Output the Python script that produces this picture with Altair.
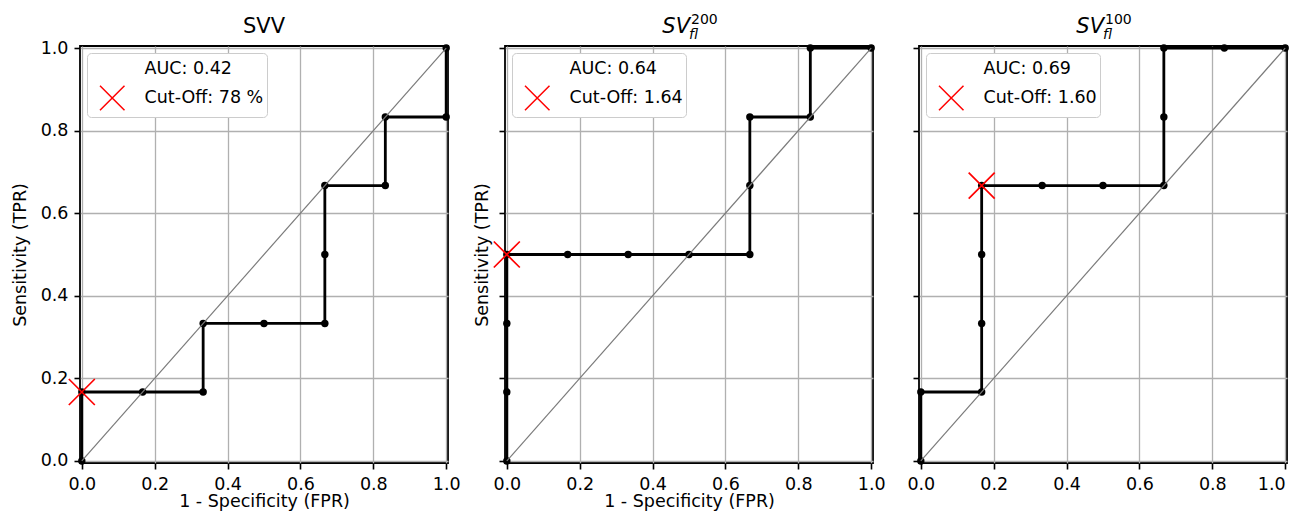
import altair as alt
import pandas as pd

FONT = "DejaVu Sans"
TICKS = [0.0, 0.2, 0.4, 0.6, 0.8, 1.0]
DIAG = [0.0, 1.0]
XPATH = "M-1,-1L1,1M-1,1L1,-1"

# Panel 1: SVV
svv_fpr = [0.0, 0.0, 0.167, 0.333, 0.333, 0.5, 0.667, 0.667, 0.667, 0.833, 0.833, 1.0, 1.0]
svv_tpr = [0.0, 0.167, 0.167, 0.167, 0.333, 0.333, 0.333, 0.5, 0.667, 0.667, 0.833, 0.833, 1.0]
svv_auc = "AUC: 0.42"
svv_cut = "Cut-Off: 78 %"
svv_cut_pt = [0.0, 0.167]

# Panel 2: SV_fl^200
sv200_fpr = [0.0, 0.0, 0.0, 0.0, 0.167, 0.333, 0.5, 0.667, 0.667, 0.667, 0.833, 0.833, 1.0]
sv200_tpr = [0.0, 0.167, 0.333, 0.5, 0.5, 0.5, 0.5, 0.5, 0.667, 0.833, 0.833, 1.0, 1.0]
sv200_auc = "AUC: 0.64"
sv200_cut = "Cut-Off: 1.64"
sv200_cut_pt = [0.0, 0.5]

# Panel 3: SV_fl^100
sv100_fpr = [0.0, 0.0, 0.167, 0.167, 0.167, 0.167, 0.333, 0.5, 0.667, 0.667, 0.667, 0.833, 1.0]
sv100_tpr = [0.0, 0.167, 0.167, 0.333, 0.5, 0.667, 0.667, 0.667, 0.667, 0.833, 1.0, 1.0, 1.0]
sv100_auc = "AUC: 0.69"
sv100_cut = "Cut-Off: 1.60"
sv100_cut_pt = [0.167, 0.667]

W, H = 368, 417
FS = 17.5
PAD_L, PAD_T = 72, 38
SVG_W, SVG_H = 1283, 503


def text_layer(txt, px, py, size, style="normal", align="center"):
    return alt.Chart(pd.DataFrame({"t": [txt]})).mark_text(
        font=FONT, fontSize=size, fontStyle=style, align=align,
        baseline="alphabetic", color="black"
    ).encode(x=alt.value(px), y=alt.value(py), text="t:N")


def make_panel(fpr, tpr, auc_lab, cut_lab, cut_pt, title_layers,
               ylabels, ytitle, xtitle, ytitle_pad=11, yextent=None, last_right=False):
    roc = pd.DataFrame({"fpr": fpr, "tpr": tpr, "i": list(range(len(fpr)))})
    xs = alt.Scale(domain=[-0.005, 1.005], nice=False, zero=False)
    ys = alt.Scale(domain=[-0.005, 1.005], nice=False, zero=False)

    xkw = dict(values=TICKS, format=".1f", labelPadding=6, titlePadding=0)
    xkw["title"] = xtitle if xtitle else None
    if last_right:
        xkw["labelAlign"] = {"condition": {"test": "datum.value >= 0.99", "value": "right"},
                             "value": "center"}
    ykw = dict(values=TICKS, format=".1f", labelPadding=6, titlePadding=ytitle_pad,
               labels=ylabels)
    ykw["title"] = ytitle if ytitle else None
    if yextent is not None:
        ykw["minExtent"] = yextent

    x = alt.X("fpr:Q", scale=xs, axis=alt.Axis(**xkw))
    y = alt.Y("tpr:Q", scale=ys, axis=alt.Axis(**ykw))

    line = alt.Chart(roc).mark_line(color="black", strokeWidth=2.8).encode(
        x=x, y=y, order="i:Q")
    pts = alt.Chart(roc).mark_circle(color="black", size=55, opacity=1).encode(
        x=alt.X("fpr:Q", scale=xs), y=alt.Y("tpr:Q", scale=ys))
    diag = alt.Chart(pd.DataFrame({"fpr": DIAG, "tpr": DIAG})).mark_line(
        color="#7a7a7a", strokeWidth=1.2).encode(
        x=alt.X("fpr:Q", scale=xs), y=alt.Y("tpr:Q", scale=ys))
    cut_df = pd.DataFrame({"fpr": [cut_pt[0]], "tpr": [cut_pt[1]], "lab": [cut_lab]})
    cut = alt.Chart(cut_df).mark_point(
        shape=XPATH, size=676, filled=False, strokeWidth=1.7, opacity=1).encode(
        x=alt.X("fpr:Q", scale=xs), y=alt.Y("tpr:Q", scale=ys),
        color=alt.Color("lab:N",
                        scale=alt.Scale(domain=[auc_lab, cut_lab], range=["transparent", "red"]),
                        sort=None,
                        legend=alt.Legend(
                            title=None, orient="top-left", offset=7,
                            fillColor="white", strokeColor="#cccccc", cornerRadius=4,
                            padding=3, labelFont=FONT, labelFontSize=FS, labelColor="black",
                            symbolType=XPATH, symbolSize=600, symbolStrokeWidth=1.5,
                            symbolOffset=9.25, labelOffset=19.25, rowPadding=-5,
                            labelLimit=0)))
    return alt.layer(line, pts, diag, cut, *title_layers).properties(width=W, height=H)


t1 = [text_layer("SVV", W / 2, -13, 21)]
t2 = [text_layer("SV", W / 2 + 1, -13, 21, "italic", "right"),
      text_layer("fl", W / 2, -7, 14, "italic", "left"),
      text_layer("200", W / 2 + 2, -22, 14, "normal", "left")]
t3 = [text_layer("SV", W / 2 + 1, -13, 21, "italic", "right"),
      text_layer("fl", W / 2, -7, 14, "italic", "left"),
      text_layer("100", W / 2 + 2, -22, 14, "normal", "left")]

p1 = make_panel(svv_fpr, svv_tpr, svv_auc, svv_cut, svv_cut_pt, t1,
                True, "Sensitivity (TPR)", "1 - Specificity (FPR)")
p2 = make_panel(sv200_fpr, sv200_tpr, sv200_auc, sv200_cut, sv200_cut_pt, t2,
                False, "Sensitivity (TPR)", "1 - Specificity (FPR)", ytitle_pad=7)
p3 = make_panel(sv100_fpr, sv100_tpr, sv100_auc, sv100_cut, sv100_cut_pt, t3,
                False, None, None, yextent=21, last_right=True)

chart = alt.hconcat(p1, p2, p3, spacing=11).resolve_scale(
    color="independent"
).configure_view(
    stroke="black", strokeWidth=1.8
).configure_axis(
    grid=True, gridColor="#b0b0b0", gridWidth=1.3, gridOpacity=1,
    domain=False, tickColor="black", tickSize=6, tickWidth=1.6,
    labelFont=FONT, labelFontSize=FS, labelColor="black",
    titleFont=FONT, titleFontSize=FS, titleFontWeight="normal", titleColor="black"
).properties(
    autosize=alt.AutoSizeParams(type="none"),
    padding={"left": PAD_L, "top": PAD_T, "right": SVG_W - PAD_L, "bottom": SVG_H - PAD_T},
    background="white"
)

chart.save("out.html", embed_options={"renderer": "svg", "actions": False})
